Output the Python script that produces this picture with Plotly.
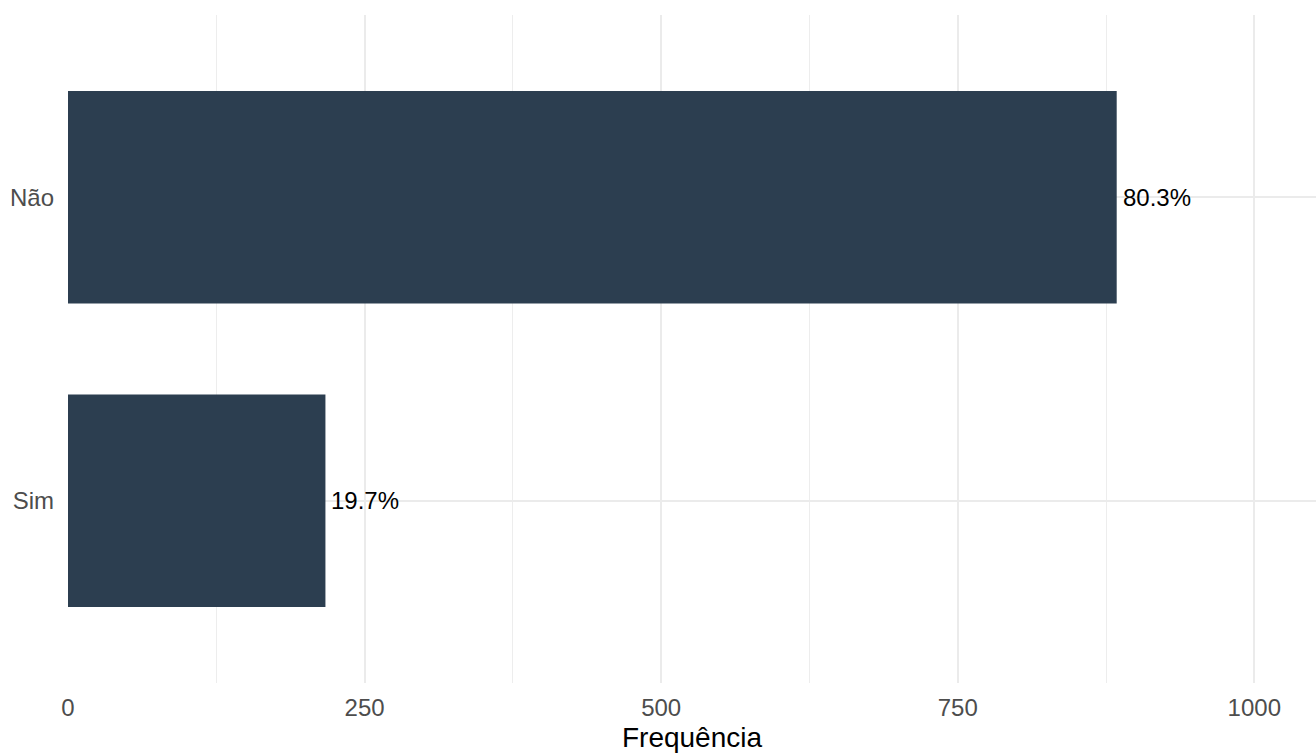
import plotly.graph_objects as go

categories = ["Sim", "Não"]
counts = [217, 884]
x_ticks = [0, 250, 500, 750, 1000]
x_minor = [125, 375, 625, 875]
x_title = "Frequência"

total = sum(counts)
labels = [f"{c / total * 100:.1f}%" for c in counts]

FONT = "Liberation Sans, Arial, Helvetica, sans-serif"

fig = go.Figure(
    go.Bar(
        x=counts,
        y=categories,
        orientation="h",
        width=0.7,
        marker=dict(color="#2C3E50", line=dict(width=0)),
        hoverinfo="skip",
    )
)

for c, cat, lab in zip(counts, categories, labels):
    fig.add_annotation(
        x=c, y=cat, text=lab, showarrow=False,
        xanchor="left", yanchor="middle", xshift=4,
        font=dict(family=FONT, size=24, color="#000000"),
    )

fig.update_layout(
    width=1316,
    height=753,
    paper_bgcolor="white",
    plot_bgcolor="white",
    margin=dict(l=68, r=0, t=15, b=70),
    showlegend=False,
    font=dict(family=FONT),
    xaxis=dict(
        range=[0, 1052],
        tickvals=x_ticks,
        ticktext=[str(v) for v in x_ticks],
        showgrid=True,
        gridcolor="#EBEBEB",
        gridwidth=1.6,
        zeroline=False,
        showline=False,
        ticks="",
        tickfont=dict(family=FONT, size=24, color="#4D4D4D"),
        ticklabelstandoff=8,
        minor=dict(tickvals=x_minor, showgrid=True, gridcolor="#EDEDED", gridwidth=1),
        title=dict(text=x_title, font=dict(family=FONT, size=28, color="#000000"), standoff=10),
        fixedrange=True,
    ),
    yaxis=dict(
        categoryorder="array",
        categoryarray=categories,
        range=[-0.6, 1.6],
        showgrid=True,
        gridcolor="#EBEBEB",
        gridwidth=1.6,
        zeroline=False,
        showline=False,
        ticks="",
        tickfont=dict(family=FONT, size=24, color="#4D4D4D"),
        ticklabelstandoff=13,
        fixedrange=True,
    ),
)

fig.write_html("out.html", config={"displayModeBar": False})

with open("out.html", "r", encoding="utf-8") as f:
    html = f.read()
html = html.replace("<body>", '<body style="margin:0;padding:0;">', 1)
with open("out.html", "w", encoding="utf-8") as f:
    f.write(html)
